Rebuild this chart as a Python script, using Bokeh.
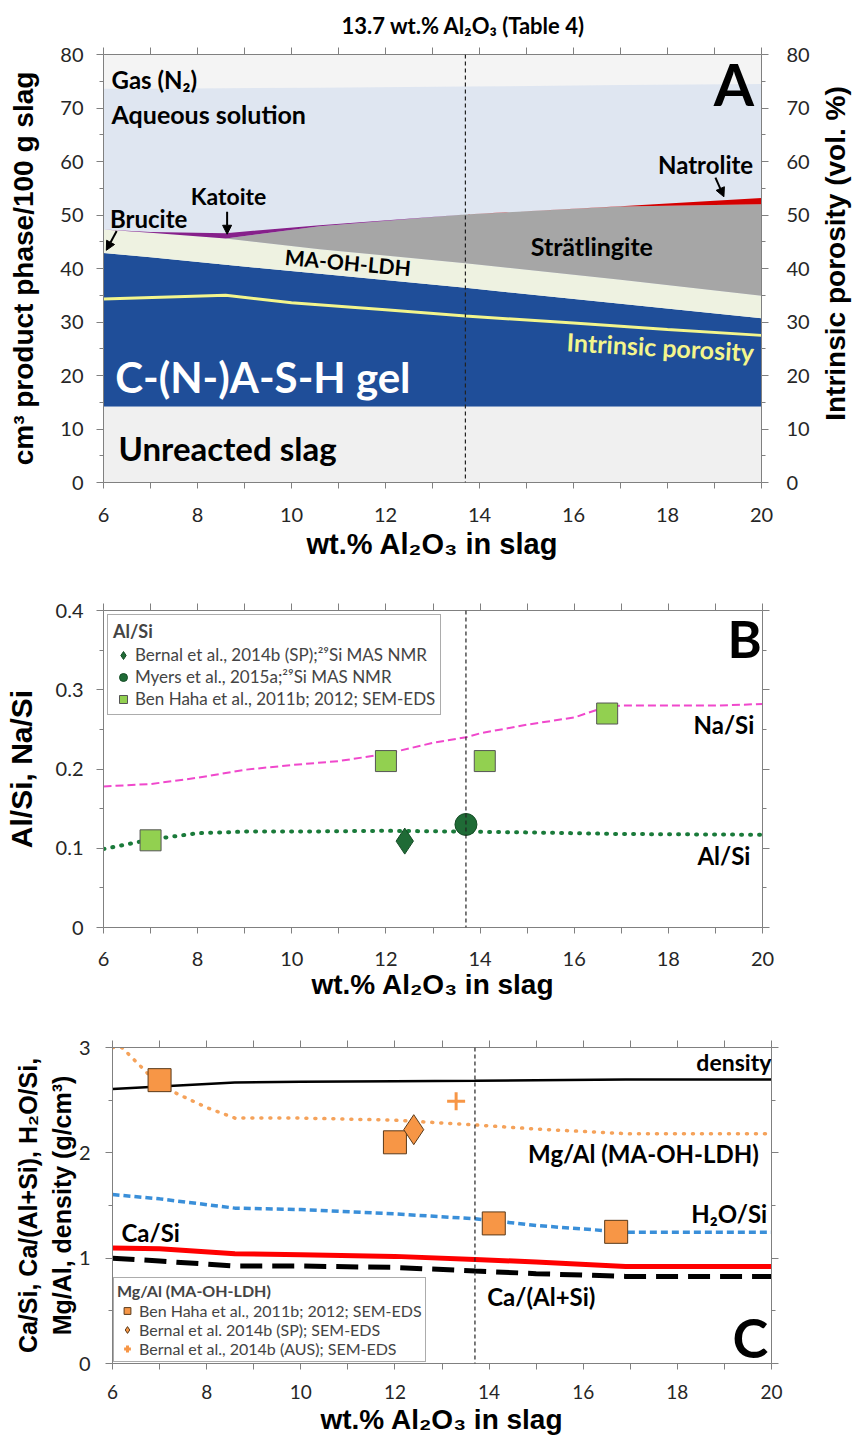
from math import pi, radians
from bokeh.plotting import figure
from bokeh.models import (Range1d, LinearAxis, FixedTicker, Label, Arrow, NormalHead,
                          Span, Legend, LegendItem)
from bokeh.layouts import row
from bokeh.embed import file_html
from bokeh.resources import INLINE

# ---------------- Panel A data (cm3 / 100 g slag) ----------------
a_x = [6, 7, 8.6, 10.6, 13.7, 17, 20]
a_slag_top = [14.2, 14.2, 14.2, 14.2, 14.2, 14.2, 14.2]
a_gel_top = [42.9, 42.1, 40.7, 39.0, 36.4, 33.4, 30.7]
a_ldh_top = [47.3, 46.7, 45.6, 43.6, 41.0, 37.9, 34.9]
a_strat_top = [47.3, 46.7, 45.6, 47.9, 50.1, 51.6, 52.0]
a_kat_top = [47.3, 46.8, 46.6, 48.1, 50.1, 51.6, 52.0]
a_nat_top = [47.3, 46.8, 46.6, 48.1, 50.1, 51.65, 53.2]
a_aq_top = [73.6, 73.6, 73.7, 73.8, 74.0, 74.3, 74.5]
por_x = [6, 8.6, 10, 12, 13.7, 16, 18, 20]
por_y = [34.3, 35.0, 33.6, 32.3, 31.1, 29.8, 28.6, 27.5]

# ---------------- Panel B data ----------------
na_x = [6, 7, 8, 9, 10, 11, 12, 13, 13.7, 14, 15, 16, 16.7, 17, 18, 19, 20]
na_si = [0.178, 0.181, 0.189, 0.199, 0.205, 0.210, 0.219, 0.233, 0.240, 0.245,
         0.256, 0.265, 0.279, 0.280, 0.280, 0.280, 0.282]
al_x = [6, 7, 8, 9, 10, 12, 13.7, 15, 17, 20]
al_si = [0.099, 0.111, 0.119, 0.121, 0.121, 0.122, 0.121, 0.120, 0.118, 0.117]
b_bernal_x = [12.4]
b_bernal_y = [0.109]
b_myers_x = [13.7]
b_myers_y = [0.130]
b_benhaha_x = [7.0, 12.0, 14.1, 16.7]
b_benhaha_y = [0.110, 0.210, 0.210, 0.270]

# ---------------- Panel C data ----------------
c_x = [6, 7, 8.6, 10, 12, 13.7, 15, 16.9, 20]
density = [2.605, 2.63, 2.668, 2.675, 2.68, 2.684, 2.69, 2.697, 2.697]
h2o_si = [1.604, 1.563, 1.475, 1.462, 1.42, 1.374, 1.31, 1.247, 1.247]
ca_si = [1.096, 1.09, 1.042, 1.033, 1.017, 0.988, 0.963, 0.922, 0.922]
ca_alsi = [1.00, 0.973, 0.925, 0.925, 0.912, 0.878, 0.853, 0.827, 0.827]
mg_x = [6, 6.2, 7, 8, 8.6, 10, 12, 13.7, 15, 17, 20]
mg_al = [3.0, 3.0, 2.64, 2.43, 2.33, 2.33, 2.31, 2.265, 2.226, 2.18, 2.18]
c_benhaha_x = [7.0, 12.0, 14.1, 16.7]
c_benhaha_y = [2.69, 2.10, 1.33, 1.25]
c_bernal_x = [12.4]
c_bernal_y = [2.22]
c_aus_x = [13.3]
c_aus_y = [2.49]

x_major = [6, 8, 10, 12, 14, 16, 18, 20]
x_minor = [7, 9, 11, 13, 15, 17, 19]
table4 = 13.7

AXIS_C = "#808080"
TICK_FONT = "Lato"
LAB_FONT = "Lato"
TITLE_FONT = "Liberation Sans"


def base_fig(w, h, xr, yr, ml, mr, mt, mb, **kw):
    p = figure(width=w, height=h, x_range=Range1d(*xr), y_range=Range1d(*yr),
               output_backend="svg", toolbar_location=None,
               min_border_left=ml, min_border_right=mr, min_border_top=mt,
               min_border_bottom=mb, **kw)
    p.xgrid.visible = False
    p.ygrid.visible = False
    p.outline_line_color = None
    p.background_fill_color = "white"
    p.border_fill_color = "white"
    return p


def style_axis(ax, ticks, minor, labels=True, size="20px", standoff=12,
               mout=7, mnout=4, overrides=None):
    ax.ticker = FixedTicker(ticks=ticks, minor_ticks=minor)
    ax.axis_line_color = AXIS_C
    ax.major_tick_line_color = AXIS_C
    ax.minor_tick_line_color = AXIS_C
    ax.major_tick_out = mout
    ax.major_tick_in = 0
    ax.minor_tick_out = mnout
    ax.minor_tick_in = 0
    ax.major_label_text_font = TICK_FONT
    ax.major_label_text_font_size = size
    ax.major_label_text_color = "#262626"
    ax.major_label_standoff = standoff
    if not labels:
        ax.major_label_overrides = {t: "" for t in ticks}
        ax.major_label_standoff = 0
    elif overrides:
        ax.major_label_overrides = overrides


def axis_title(ax, text, size, standoff, line_height=None):
    ax.axis_label = text
    ax.axis_label_text_font = TITLE_FONT
    ax.axis_label_text_font_style = "bold"
    ax.axis_label_text_font_size = size
    ax.axis_label_text_color = "black"
    ax.axis_label_standoff = standoff
    if line_height is not None:
        ax.axis_label_text_line_height = line_height


def add_frame_axes(p, yt, ym, right_labels=False, rstand=16):
    top = LinearAxis()
    style_axis(top, x_major, x_minor, labels=False, mout=7, mnout=7)
    p.add_layout(top, "above")
    right = LinearAxis()
    style_axis(right, yt, ym, labels=right_labels, standoff=rstand)
    p.add_layout(right, "right")
    return right


def lab(p, x, y, text, size, color="black", align="center", angle=0.0, font=LAB_FONT):
    p.add_layout(Label(x=x, y=y, text=text, text_font=font, text_font_size=size,
                       text_font_style="bold", text_color=color, text_align=align,
                       text_baseline="middle", angle=angle))


def arrow(p, xs, ys, xe, ye):
    p.add_layout(Arrow(end=NormalHead(size=9, fill_color="black", line_color="black"),
                       x_start=xs, y_start=ys, x_end=xe, y_end=ye,
                       line_color="black", line_width=2))


def vline(p):
    p.add_layout(Span(location=table4, dimension="height", line_color="#222222",
                      line_width=1.2, line_dash="4 3"))


# ======================= Panel A =======================
pA = base_fig(812, 575, (6, 20), (0, 80), 103, 50, 53, 93,
              title="13.7 wt.% Al\u2082O\u2083 (Table 4)")
pA.title.text_font = LAB_FONT
pA.title.text_font_style = "bold"
pA.title.text_font_size = "22px"
pA.title.text_color = "black"
pA.title.align = "left"
pA.title.offset = 238
pA.title.standoff = 18
pA.background_fill_color = "#f4f4f4"
pA.varea(x=a_x, y1=[0] * len(a_x), y2=a_aq_top, fill_color="#dfe6f1")
pA.varea(x=a_x, y1=[0] * len(a_x), y2=a_slag_top, fill_color="#f0f0f0")
pA.varea(x=a_x, y1=a_slag_top, y2=a_gel_top, fill_color="#1f4e99")
pA.varea(x=a_x, y1=a_gel_top, y2=a_ldh_top, fill_color="#eef2e1")
pA.varea(x=a_x, y1=a_ldh_top, y2=a_strat_top, fill_color="#a6a6a6")
pA.varea(x=a_x, y1=a_strat_top, y2=a_kat_top, fill_color="#86208a")
pA.varea(x=a_x, y1=a_kat_top, y2=a_nat_top, fill_color="#d40000")
pA.line(por_x, por_y, line_color="#f3f58c", line_width=3)

bA, lA = pA.below[0], pA.left[0]
style_axis(bA, x_major, x_minor, standoff=19, mout=6, mnout=6)
style_axis(lA, list(range(0, 81, 10)), list(range(5, 80, 10)), standoff=13)
add_frame_axes(pA, list(range(0, 81, 10)), list(range(5, 80, 10)),
               right_labels=True, rstand=18)
axis_title(bA, "wt.% Al\u2082O\u2083 in slag", "29px", 3)
axis_title(lA, "cm\u00b3 product phase/100 g slag", "28px", 18)
vline(pA)

lab(pA, 6.17, 75.3, "Gas (N\u2082)", "24px", align="left")
lab(pA, 6.17, 68.8, "Aqueous solution", "25px", align="left")
lab(pA, 19.41, 74.6, "A", "58px")
lab(pA, 18.81, 59.5, "Natrolite", "24px")
arrow(pA, 19.02, 57.0, 19.2, 53.4)
lab(pA, 8.66, 53.5, "Katoite", "23px")
arrow(pA, 8.63, 50.6, 8.63, 46.4)
lab(pA, 6.96, 49.4, "Brucite", "24px")
arrow(pA, 6.28, 47.0, 6.06, 43.4)
lab(pA, 11.2, 41.2, "MA-OH-LDH", "21px", angle=radians(-5.2))
lab(pA, 16.39, 44.2, "Str\u00e4tlingite", "25px")
lab(pA, 6.25, 19.8, "C-(N-)A-S-H gel", "42px", color="white", align="left")
lab(pA, 6.32, 6.5, "Unreacted slag", "33px", align="left")
lab(pA, 17.85, 25.4, "Intrinsic porosity", "25px", color="#f3f58c",
    angle=radians(-3.2))

# side strip holding the right-hand axis title (reads bottom to top)
pS = figure(width=42, height=575, x_range=Range1d(0, 1), y_range=Range1d(0, 1),
            output_backend="svg", toolbar_location=None, x_axis_type=None,
            y_axis_type=None, min_border_left=0, min_border_right=0,
            min_border_top=53, min_border_bottom=93)
pS.xgrid.visible = False
pS.ygrid.visible = False
pS.outline_line_color = None
lab(pS, 0.55, 0.535, "Intrinsic porosity (vol. %)", "28px", angle=pi / 2,
    font=TITLE_FONT)

# ======================= Panel B =======================
pB = base_fig(846, 430, (6, 20), (0, 0.4), 103, 84, 35, 78)
pB.line(na_x, na_si, line_color="#f048cc", line_width=2, line_dash="8 4")
pB.line(al_x, al_si, line_color="#1a7a3a", line_width=4, line_dash="1 8",
        line_cap="round")
rb1 = pB.scatter(b_bernal_x, b_bernal_y, marker="diamond", size=26,
                 fill_color="#1f6b36", line_color="#164d27")
rb2 = pB.scatter(b_myers_x, b_myers_y, marker="circle", size=22,
                 fill_color="#1f6b36", line_color="#164d27")
rb3 = pB.scatter(b_benhaha_x, b_benhaha_y, marker="square", size=21,
                 fill_color="#92d050", line_color="#555555")
yb_t = [0, 0.1, 0.2, 0.3, 0.4]
yb_m = [0.05, 0.15, 0.25, 0.35]
bB, lB = pB.below[0], pB.left[0]
style_axis(bB, x_major, x_minor, standoff=18, mout=6, mnout=6)
style_axis(lB, yb_t, yb_m, standoff=13, overrides={0: "0"})
add_frame_axes(pB, yb_t, yb_m)
axis_title(bB, "wt.% Al\u2082O\u2083 in slag", "28px", 0)
axis_title(lB, "Al/Si, Na/Si", "30px", 15)
vline(pB)
legB = Legend(items=[
    LegendItem(label="Bernal et al., 2014b (SP);\u00b2\u2079Si MAS NMR", renderers=[rb1]),
    LegendItem(label="Myers et al., 2015a;\u00b2\u2079Si MAS NMR", renderers=[rb2]),
    LegendItem(label="Ben Haha et al., 2011b; 2012; SEM-EDS", renderers=[rb3]),
], location="top_left", title="Al/Si")
lab(pB, 19.62, 0.365, "B", "52px")
lab(pB, 19.18, 0.256, "Na/Si", "24px")
lab(pB, 19.18, 0.091, "Al/Si", "24px")

# ======================= Panel C =======================
pC = base_fig(846, 432, (6, 20), (0, 3), 112, 75, 42, 72)
pC.line(c_x, density, line_color="black", line_width=2.5)
pC.line(mg_x, mg_al, line_color="#f5a25a", line_width=3.5, line_dash="1 8",
        line_cap="round")
pC.line(c_x, h2o_si, line_color="#3a8fd9", line_width=3.5, line_dash="7 4")
pC.line(c_x, ca_si, line_color="#ff0000", line_width=5)
pC.line(c_x, ca_alsi, line_color="black", line_width=5, line_dash="22 10")
rc1 = pC.scatter(c_benhaha_x, c_benhaha_y, marker="square", size=23,
                 fill_color="#f79646", line_color="#5a3a1a")
rc2 = pC.scatter(c_bernal_x, c_bernal_y, marker="diamond", size=30,
                 fill_color="#f79646", line_color="#5a3a1a")
rc3 = pC.scatter(c_aus_x, c_aus_y, marker="cross", size=18,
                 line_color="#f79646", line_width=3)
yc_t = [0, 1, 2, 3]
yc_m = [0.5, 1.5, 2.5]
bC, lC = pC.below[0], pC.left[0]
style_axis(bC, x_major, x_minor, standoff=15, mout=6, mnout=6, size="19px")
style_axis(lC, yc_t, yc_m, standoff=15)
add_frame_axes(pC, yc_t, yc_m)
axis_title(bC, "wt.% Al\u2082O\u2083 in slag", "28px", 2)
axis_title(lC, "Ca/Si, Ca/(Al+Si), H\u2082O/Si,\nMg/Al, density (g/cm\u00b3)",
           "25px", 0, line_height=1.2)
vline(pC)
legC = Legend(items=[
    LegendItem(label="Ben Haha et al., 2011b; 2012; SEM-EDS", renderers=[rc1]),
    LegendItem(label="Bernal et al. 2014b (SP); SEM-EDS", renderers=[rc2]),
    LegendItem(label="Bernal et al., 2014b (AUS); SEM-EDS", renderers=[rc3]),
], location="bottom_left", title="Mg/Al (MA-OH-LDH)")
lab(pC, 19.55, 0.25, "C", "54px")
lab(pC, 19.2, 2.858, "density", "23px")
lab(pC, 17.28, 1.99, "Mg/Al (MA-OH-LDH)", "24px")
lab(pC, 19.1, 1.42, "H\u2082O/Si", "24px")
lab(pC, 6.81, 1.245, "Ca/Si", "24px")
lab(pC, 15.11, 0.64, "Ca/(Al+Si)", "24px")

for lg, pp, mg, gh, sp, pd, tf, lf, ts in [
        (legB, pB, 4, 20, 1, 5, "18px", "17px", 2),
        (legC, pC, 1, 17, 0, 3, "16px", "16px", 1)]:
    lg.title_text_font = LAB_FONT
    lg.title_text_font_style = "bold"
    lg.title_text_font_size = tf
    lg.title_standoff = ts
    lg.label_text_font = LAB_FONT
    lg.label_text_font_size = lf
    lg.label_height = gh
    lg.glyph_height = gh
    lg.glyph_width = 20
    lg.label_standoff = 2
    lg.spacing = sp
    lg.padding = pd
    lg.margin = mg
    lg.border_line_color = "#595959"
    lg.border_line_width = 1
    lg.background_fill_alpha = 1.0
    pp.add_layout(lg)

top_row = row(pA, pS, spacing=0)
open("out.html", "w").write(file_html([top_row, pB, pC], INLINE))
